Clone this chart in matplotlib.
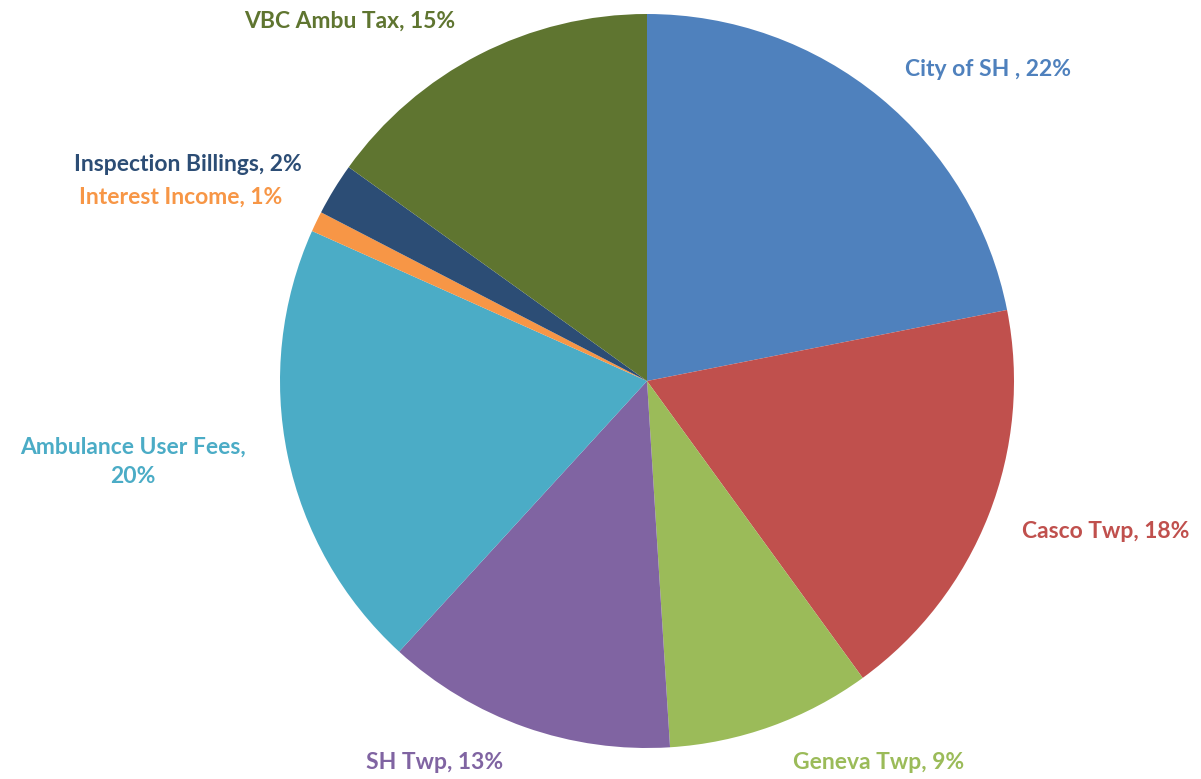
import matplotlib
matplotlib.use("Agg")
import matplotlib.pyplot as plt

categories = ["City of SH ", "Casco Twp", "Geneva Twp", "SH Twp",
              "Ambulance User Fees", "Interest Income", "Inspection Billings", "VBC Ambu Tax"]
values = [21.9, 18.1, 9.0, 12.8, 19.9, 0.9, 2.3, 15.1]
pct_labels = ["22%", "18%", "9%", "13%", "20%", "1%", "2%", "15%"]
colors = ["#4F81BD", "#C0504D", "#9BBB59", "#8064A2",
          "#4BACC6", "#F79646", "#2C4D75", "#5F7530"]

W, H = 1201, 779
fig = plt.figure(figsize=(W / 100, H / 100), dpi=100)
ax = fig.add_axes([0, 0, 1, 1])

cx, cy, R = 647, 398, 367  # pixel centre (from bottom) and radius
ax.pie(values, colors=colors, startangle=90, counterclock=False,
       radius=1.0, wedgeprops=dict(linewidth=0))
ax.set_aspect("auto")
ax.set_xlim(-cx / R, (W - cx) / R)
ax.set_ylim(-cy / R, (H - cy) / R)
ax.axis("off")

label_pos = [(0.93, 0.85), (1.25, -0.41), (0.63, -1.04), (-0.58, -1.04),
             (-1.40, -0.22), (-1.27, 0.50), (-1.25, 0.59), (-0.81, 0.98)]
for cat, pct, col, (x, y) in zip(categories, pct_labels, colors, label_pos):
    if cat.startswith("Ambulance"):
        txt = f"{cat},\n{pct}"
    else:
        txt = f"{cat}, {pct}"
    ax.text(x, y, txt, color=col, fontsize=16.5, fontweight="bold",
            family=["Lato", "DejaVu Sans"], ha="center", va="center",
            linespacing=1.45)

fig.savefig("out.png", dpi=100)
